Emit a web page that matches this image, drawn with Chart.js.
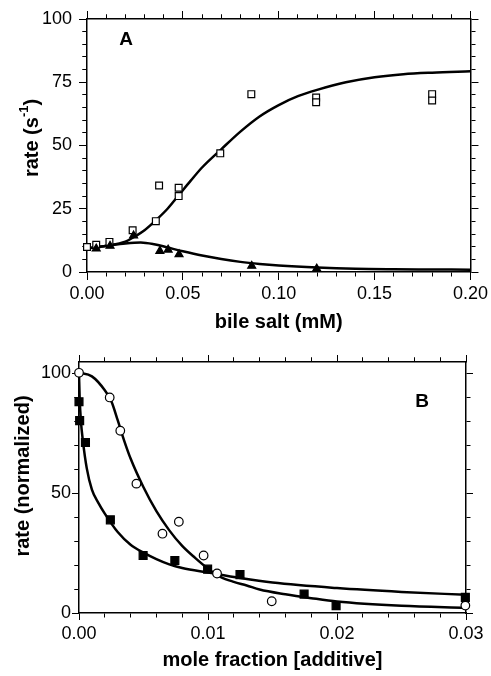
<!DOCTYPE html>
<html>
<head>
<meta charset="utf-8">
<script src="https://cdn.jsdelivr.net/npm/chart.js@4"></script>
<style>
  html, body { margin: 0; padding: 0; background: #fff; }
  #wrap { position: relative; width: 491px; height: 676px; background: #fff; }
  canvas { position: absolute; left: 0; }
  #chartA { top: 0; }
  #chartB { top: 340px; }
</style>
</head>
<body>
<div id="wrap">
  <canvas id="chartA" width="491" height="340"></canvas>
  <canvas id="chartB" width="491" height="336"></canvas>
</div>
<script>
const FONT = '"Liberation Sans", Arial, Helvetica, sans-serif';

// Panel A - bile salt (mM) vs rate (s-1)
const bileTicksX = [0, 0.05, 0.10, 0.15, 0.20];
const rateTicksA = [0, 25, 50, 75, 100];
const squaresAX = [0, 0.0048, 0.0117, 0.0238, 0.0359, 0.0376, 0.0478, 0.0478, 0.0695, 0.0857, 0.1195, 0.1195, 0.18, 0.18];
const squaresAY = [9.9, 10.8, 11.9, 16.5, 20.1, 34.2, 33.3, 30.0, 46.9, 70.3, 69.0, 67.1, 70.3, 67.8];
const trianglesAX = [0.0048, 0.012, 0.0243, 0.038, 0.0423, 0.048, 0.0859, 0.1198];
const trianglesAY = [9.2, 10.3, 14.4, 8.3, 8.8, 7.0, 2.4, 1.3];
const fitUpAX = [0, 0.01, 0.02, 0.026, 0.03, 0.036, 0.042, 0.048, 0.054, 0.06, 0.07, 0.08, 0.09, 0.10, 0.11, 0.12, 0.135, 0.15, 0.165, 0.18, 0.20];
const fitUpAY = [9.3, 10.4, 12.0, 14.5, 16.5, 20.5, 25.0, 30.5, 36.0, 41.3, 48.5, 55.5, 61.5, 66.0, 69.5, 72.0, 75.0, 77.0, 78.2, 78.8, 79.3];
const fitDownAX = [0, 0.01, 0.02, 0.028, 0.035, 0.042, 0.05, 0.06, 0.07, 0.08, 0.09, 0.10, 0.12, 0.14, 0.16, 0.18, 0.20];
const fitDownAY = [9.3, 10.3, 11.3, 11.7, 11.0, 9.7, 8.2, 6.5, 5.1, 4.0, 3.2, 2.6, 1.8, 1.3, 1.1, 1.0, 0.9];

// Panel B - mole fraction [additive] vs normalized rate
const moleTicksX = [0, 0.01, 0.02, 0.03];
const rateTicksB = [0, 50, 100];
const squaresBX = [0, 0.00005, 0.0005, 0.00243, 0.00497, 0.00743, 0.00997, 0.01248, 0.01745, 0.01993, 0.02995];
const squaresBY = [88.2, 80.3, 71.2, 38.9, 24.0, 21.9, 18.3, 16.0, 7.9, 3.1, 6.5];
const circlesBX = [0, 0.00238, 0.0032, 0.00445, 0.00647, 0.00774, 0.00966, 0.0107, 0.01494, 0.02995];
const circlesBY = [100.3, 90.0, 76.1, 54.0, 33.1, 38.1, 24.0, 16.5, 4.9, 3.1];
const fitCircX = [0, 0.001, 0.002, 0.0025, 0.003, 0.0035, 0.004, 0.005, 0.006, 0.007, 0.008, 0.009, 0.010, 0.011, 0.012, 0.013, 0.014, 0.016, 0.018, 0.020, 0.025, 0.030];
const fitCircY = [100.3, 98.8, 93.0, 88.5, 80.5, 72.0, 64.5, 52.5, 42.5, 34.5, 28.0, 23.0, 18.5, 15.0, 13.0, 11.5, 9.8, 7.8, 6.2, 4.8, 3.0, 2.1];
const fitSqX = [0, 0.00005, 0.00015, 0.0003, 0.0006, 0.001, 0.0015, 0.002, 0.003, 0.004, 0.005, 0.006, 0.007, 0.008, 0.010, 0.0125, 0.015, 0.020, 0.025, 0.030];
const fitSqY = [100, 90, 80, 72, 60.5, 51.5, 46, 41.5, 33.8, 28.5, 25.2, 22.5, 20.3, 18.8, 16.9, 14.6, 12.7, 10.4, 8.8, 7.6];

const pts = (xs, ys) => xs.map((x, i) => ({ x, y: ys[i] }));

// draws rotated axis titles (with superscript) and panel letters
const panelText = {
    id: 'panelText',
    afterDraw(chart, args, opts) {
        const ctx = chart.ctx;
        ctx.save();
        ctx.fillStyle = '#000';
        ctx.textBaseline = 'middle';
        ctx.textAlign = 'left';
        (opts.items || []).forEach(item => {
            ctx.save();
            ctx.translate(item.x, item.y);
            ctx.rotate(item.rotation || 0);
            let total = 0;
            item.parts.forEach(p => { ctx.font = p.font; total += ctx.measureText(p.text).width; });
            let cx = -total / 2;
            item.parts.forEach(p => {
                ctx.font = p.font;
                ctx.fillText(p.text, cx, p.dy || 0);
                cx += ctx.measureText(p.text).width;
            });
            ctx.restore();
        });
        ctx.restore();
    }
};

// tick positions every minor step; the major ones get labels and full-length marks
const minorTicks = (min, max, step) => {
    const n = Math.floor((max - min) / step + 1e-9);
    const out = [];
    for (let i = 0; i <= n; i++) out.push(min + i * step);
    return out;
};
const isMajor = (majors, v) => majors.some(m => Math.abs(m - v) < 1e-9);

const frameScales = (cfg) => {
    const tickFont = { family: FONT, size: 18 };
    const frame = { display: true, color: '#000', width: 1.5 };
    const xAll = minorTicks(cfg.xMin, cfg.xMax, cfg.xMinorStep);
    const yAll = minorTicks(cfg.yMin, cfg.yMinorMax, cfg.yMinorStep);
    const L = cfg.majorLen, m = cfg.minorLen;
    // tick lines run axis->outside on bottom/right, outside->axis on top/left
    const grid = (majors, outerFirst) => ({
        drawOnChartArea: false, drawTicks: true, tickLength: L, tickColor: '#000', tickWidth: 1,
        tickBorderDash: c => (!c.tick || isMajor(majors, c.tick.value)) ? [] : (outerFirst ? [0, L - 0.75 - m, m, 100] : [m, 100])
    });
    const setTicks = list => s => { s.ticks = list.map(v => ({ value: v })); };
    const xBase = { type: 'linear', min: cfg.xMin, max: cfg.xMax, afterBuildTicks: setTicks(xAll) };
    const yBase = { type: 'linear', min: cfg.yMin, max: cfg.yMax, afterBuildTicks: setTicks(yAll) };
    return {
        x: { ...xBase, position: 'bottom',
            ticks: { callback: v => isMajor(cfg.xTicks, v) ? v.toFixed(2) : '', font: tickFont, color: '#000', padding: 3, maxRotation: 0, autoSkip: false },
            grid: grid(cfg.xTicks, false), border: frame,
            title: { display: true, text: cfg.xTitle, color: '#000', font: { family: FONT, size: 20, weight: 'bold' }, padding: { top: 0, bottom: cfg.xTitlePad } },
            afterFit: s => { s.height = cfg.bottom; } },
        xTop: { ...xBase, position: 'top',
            ticks: { display: false, autoSkip: false },
            grid: grid(cfg.xTicks, true), border: frame, afterFit: s => { s.height = cfg.top; } },
        y: { ...yBase, position: 'left',
            ticks: { callback: v => isMajor(cfg.yTicks, v) ? String(Math.round(v)) : '', font: tickFont, color: '#000', padding: cfg.yPad, autoSkip: false },
            grid: grid(cfg.yTicks, true), border: frame, afterFit: s => { s.width = cfg.left; } },
        yRight: { ...yBase, position: 'right',
            ticks: { display: false, autoSkip: false },
            grid: grid(cfg.yTicks, false), border: frame, afterFit: s => { s.width = cfg.right; } }
    };
};

const curve = (xs, ys) => ({
    data: pts(xs, ys), showLine: true, pointRadius: 0, borderColor: '#000', borderWidth: 2.5,
    cubicInterpolationMode: 'monotone', xAxisID: 'x', yAxisID: 'y', order: 2
});
const marks = (xs, ys, style, radius, fill) => ({
    data: pts(xs, ys), showLine: false, pointStyle: style, pointRadius: radius,
    pointBackgroundColor: fill, pointBorderColor: '#000', pointBorderWidth: 1.2,
    clip: false, xAxisID: 'x', yAxisID: 'y', order: 1
});

const baseOptions = {
    responsive: false,
    animation: false,
    events: [],
    layout: { padding: 0 },
    plugins: { legend: { display: false }, tooltip: { enabled: false } }
};

new Chart(document.getElementById('chartA'), {
    type: 'scatter',
    data: {
        datasets: [
            curve(fitUpAX, fitUpAY),
            curve(fitDownAX, fitDownAY),
            marks(trianglesAX, trianglesAY, 'triangle', 4.6, '#000'),
            marks(squaresAX, squaresAY, 'rect', 4.8, '#fff')
        ]
    },
    options: {
        ...baseOptions,
        scales: frameScales({
            xMin: 0, xMax: 0.2, xTicks: bileTicksX, xMinorStep: 0.01,
            yMin: 0, yMax: 100, yMinorMax: 100, yTicks: rateTicksA, yMinorStep: 5,
            xTitle: 'bile salt (mM)', xTitlePad: 6, yPad: 7,
            majorLen: 8, minorLen: 4,
            left: 87, right: 18, top: 19, bottom: 68
        }),
        plugins: {
            ...baseOptions.plugins,
            panelText: {
                items: [
                    { x: 32, y: 138, rotation: -Math.PI / 2, parts: [
                        { text: 'rate (s', font: 'bold 20px ' + FONT },
                        { text: '-1', font: 'bold 13px ' + FONT, dy: -8 },
                        { text: ')', font: 'bold 20px ' + FONT }
                    ] },
                    { x: 126, y: 40, parts: [{ text: 'A', font: 'bold 19px ' + FONT }] }
                ]
            }
        }
    },
    plugins: [panelText]
});

new Chart(document.getElementById('chartB'), {
    type: 'scatter',
    data: {
        datasets: [
            curve(fitCircX, fitCircY),
            curve(fitSqX, fitSqY),
            marks(circlesBX, circlesBY, 'circle', 4.3, '#fff'),
            marks(squaresBX, squaresBY, 'rect', 5.6, '#000')
        ]
    },
    options: {
        ...baseOptions,
        scales: frameScales({
            xMin: 0, xMax: 0.03, xTicks: moleTicksX, xMinorStep: 0.002,
            yMin: 0, yMax: 104.8, yMinorMax: 100, yTicks: rateTicksB, yMinorStep: 10,
            xTitle: 'mole fraction [additive]', xTitlePad: 4, yPad: 1,
            majorLen: 7, minorLen: 4,
            left: 79, right: 25, top: 22, bottom: 63
        }),
        plugins: {
            ...baseOptions.plugins,
            panelText: {
                items: [
                    { x: 23, y: 136, rotation: -Math.PI / 2, parts: [
                        { text: 'rate (normalized)', font: 'bold 20px ' + FONT }
                    ] },
                    { x: 422, y: 62, parts: [{ text: 'B', font: 'bold 19px ' + FONT }] }
                ]
            }
        }
    },
    plugins: [panelText]
});
</script>
</body>
</html>
